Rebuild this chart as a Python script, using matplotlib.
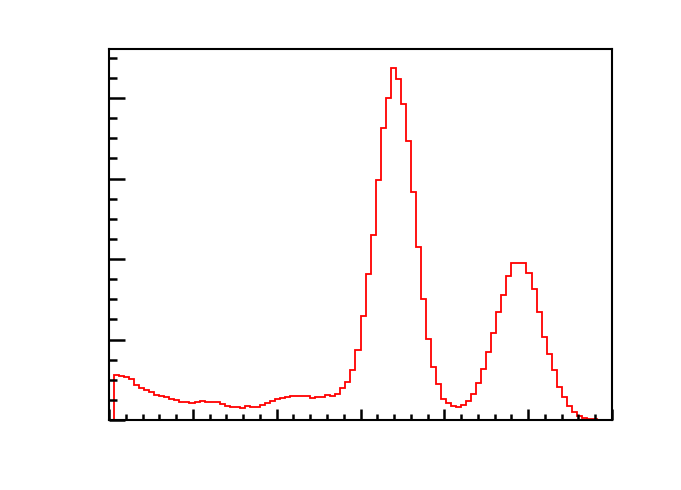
import numpy as np
from matplotlib import pyplot as plt
from matplotlib.ticker import MultipleLocator

# histogram: 100 bins between 0 and 6
x_min = 0.0
x_max = 6.0
n_bins = 100
counts = [
    0.0, 55.8, 55.0, 53.0, 51.2, 43.8, 40.1, 37.6, 35.1, 31.4,
    29.4, 28.9, 26.4, 24.8, 22.7, 22.7, 21.5, 22.7, 23.9, 22.7,
    22.7, 22.7, 20.2, 17.7, 16.5, 16.5, 15.3, 17.7, 16.5, 16.5,
    19.0, 21.5, 23.2, 25.7, 27.7, 28.9, 30.1, 30.1, 29.8, 29.8,
    27.7, 28.2, 28.9, 31.0, 29.8, 32.3, 39.7, 47.5, 62.0, 86.8,
    129.0, 181.5, 229.5, 297.8, 363.1, 399.9, 437.6, 424.0, 392.9, 346.2,
    283.3, 215.0, 149.8, 100.5, 66.1, 44.7, 25.7, 21.5, 17.7, 16.5,
    18.6, 23.9, 32.3, 46.3, 63.6, 84.7, 108.3, 133.6, 155.5, 178.7,
    194.8, 194.8, 194.5, 182.8, 162.5, 134.0, 103.0, 82.3, 61.7, 41.3,
    28.2, 17.7, 10.3, 5.3, 2.1, 1.2, 1.2, 0.4, 0.4, 0.4,
]
y_max = 461


def draw_hist():
    fig = plt.figure(figsize=(6.81, 4.90), dpi=100)
    ax = fig.add_axes([109 / 681, 70 / 490, 503 / 681, 371 / 490])

    edges = np.linspace(x_min, x_max, n_bins + 1)
    ax.stairs(counts, edges, color='red', linewidth=1.3)

    ax.set_xlim(x_min, x_max)
    ax.set_ylim(0, y_max)

    ax.xaxis.set_major_locator(MultipleLocator(1))
    ax.xaxis.set_minor_locator(MultipleLocator(0.2))
    ax.yaxis.set_major_locator(MultipleLocator(100))
    ax.yaxis.set_minor_locator(MultipleLocator(25))

    ax.tick_params(axis='both', which='both', direction='in',
                   labelbottom=False, labelleft=False,
                   top=False, right=False, width=1.8, color='black')
    ax.tick_params(axis='x', which='major', length=8)
    ax.tick_params(axis='x', which='minor', length=4)
    ax.tick_params(axis='y', which='major', length=11.5)
    ax.tick_params(axis='y', which='minor', length=5.8)

    for sp in ax.spines.values():
        sp.set_linewidth(1.5)
        sp.set_color('black')

    plt.savefig("out.png", dpi=100)
    plt.close()


if __name__ == "__main__":
    draw_hist()
